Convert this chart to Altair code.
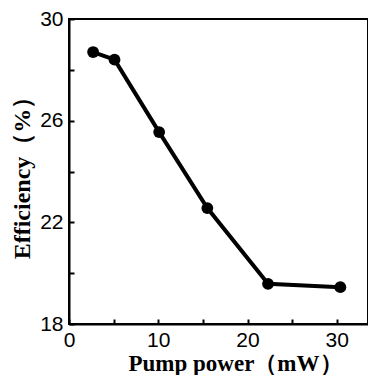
import altair as alt
import pandas as pd

pump_power = [2.7, 5.1, 10.1, 15.5, 22.3, 30.4]
efficiency = [28.7, 28.4, 25.55, 22.56, 19.58, 19.45]
x_ticks = [0, 5, 10, 15, 20, 25, 30]
y_ticks = [18, 20, 22, 24, 26, 28, 30]
x_labels = [0, 10, 20, 30]
y_labels = [18, 22, 26, 30]

df = pd.DataFrame({"p": pump_power, "e": efficiency})

xs = alt.Scale(domain=[0, 33.5], nice=False)
ys = alt.Scale(domain=[18, 30], nice=False)

label_font = "Liberation Sans"
title_font = "Liberation Serif"

x_main = alt.Axis(values=x_labels, title="Pump power（mW）", ticks=False, grid=False,
                  domainColor="black", domainWidth=2, labelFont=label_font, labelFontSize=21,
                  labelColor="black", labelPadding=5, labelFlush=False,
                  titleFont=title_font, titleFontSize=23,
                  titleFontWeight="bold", titleColor="black", titleX=166, titleY=46,
                  titleBaseline="alphabetic", format="d", orient="bottom")
y_main = alt.Axis(values=y_labels, title="Efficiency（%）", ticks=False, grid=False,
                  domainColor="black", domainWidth=2, labelFont=label_font, labelFontSize=21,
                  labelColor="black", labelPadding=6, labelFlush=False,
                  titleFont=title_font, titleFontSize=24,
                  titleFontWeight="bold", titleColor="black", titlePadding=5,
                  format="d", orient="left")
x_tick_axis = alt.Axis(values=x_ticks, title=None, labels=False, domain=False, grid=False,
                       ticks=True, tickSize=5, tickWidth=2, tickColor="black", offset=-5,
                       orient="bottom")
y_tick_axis = alt.Axis(values=y_ticks, title=None, labels=False, domain=False, grid=False,
                       ticks=True, tickSize=5, tickWidth=2, tickColor="black", offset=-5,
                       orient="left")

line = alt.Chart(df).mark_line(color="black", strokeWidth=4).encode(
    x=alt.X("p:Q", scale=xs, axis=x_main),
    y=alt.Y("e:Q", scale=ys, axis=y_main),
)
points = alt.Chart(df).mark_point(filled=True, color="black", size=140, opacity=1).encode(
    x=alt.X("p:Q", scale=xs, axis=x_tick_axis),
    y=alt.Y("e:Q", scale=ys, axis=y_tick_axis),
)

chart = alt.layer(line, points).resolve_axis(x="independent", y="independent").properties(
    width=299, height=305,
    autosize=alt.AutoSizeParams(type="none"),
    padding={"left": 61, "top": 11, "right": 0, "bottom": 51},
    background="white",
).configure_view(stroke="black", strokeWidth=2)

chart.save("out.html", embed_options={"renderer": "svg", "actions": False})
